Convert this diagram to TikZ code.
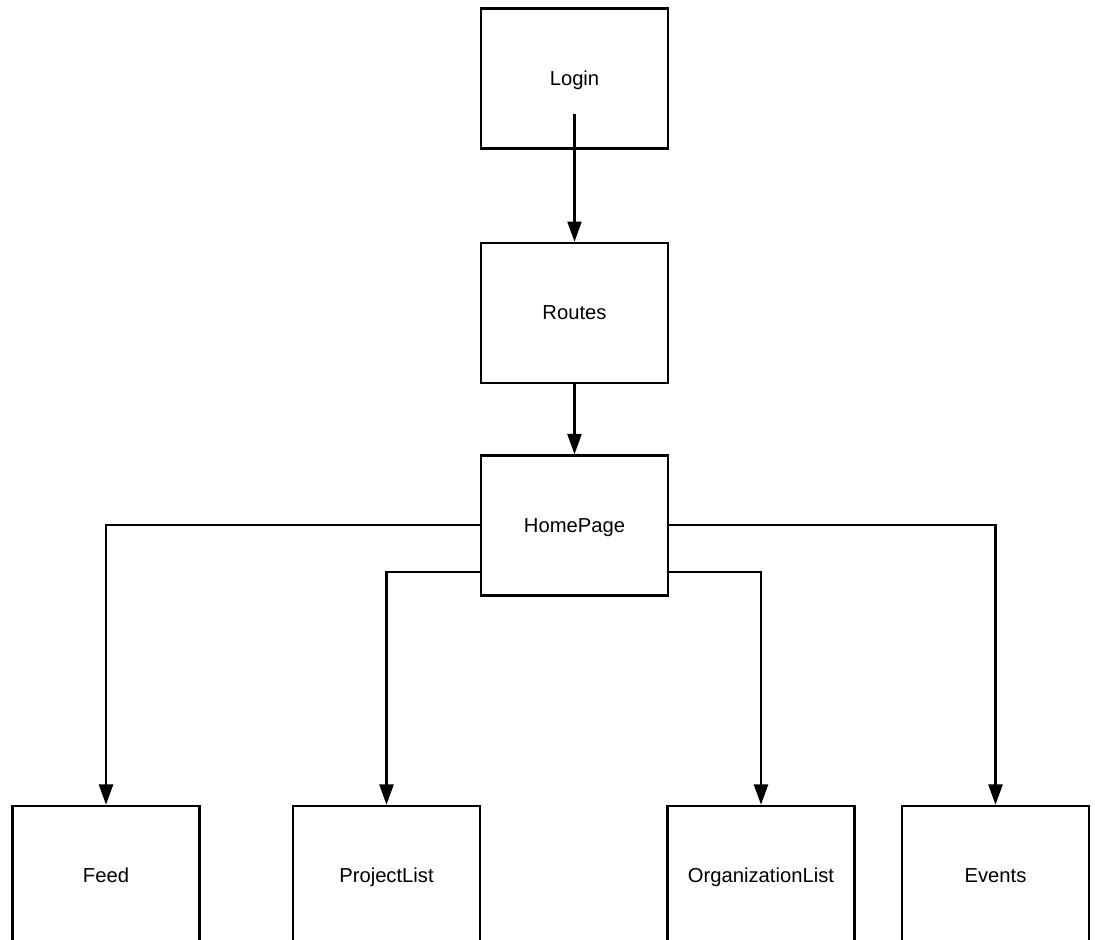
\documentclass[tikz,border=0pt]{standalone}
\usepackage{fontspec}
\setmainfont{Liberation Sans}
\usetikzlibrary{arrows.meta,positioning}

\begin{document}
\begin{tikzpicture}[every node/.style={font=\fontsize{11.5}{14}\selectfont}]

\tikzset{
  page/.style={rectangle, draw=black, line width=1.4pt, fill=white, minimum width=3.74cm, minimum height=2.8cm, inner sep=0pt, text height=10pt, text depth=2pt},
  link/.style={-{Triangle[length=11.5pt, width=8pt]}, line width=1.2pt}
}

\useasboundingbox (0,0) rectangle (21.9,-18.8);

% Top chain
\node[page] (login) at (11.49,-1.57) {Login};
\node[page, below=1.84cm of login] (routes) {Routes};
\node[page, below=1.4cm of routes] (home) {HomePage};

% Child pages
\node[page] (feed) at ([xshift=-9.37cm, yshift=-7.01cm]home.center) {Feed};
\node[page] (plist) at ([xshift=-3.76cm, yshift=-7.01cm]home.center) {ProjectList};
\node[page] (olist) at ([xshift=3.73cm, yshift=-7.01cm]home.center) {OrganizationList};
\node[page] (events) at ([xshift=8.42cm, yshift=-7.01cm]home.center) {Events};

% Arrows
\coordinate (loginout) at ([yshift=-0.72cm]login.center);
\draw[link] (loginout) -- (routes.north);
\draw[link] (routes.south) -- (home.north);
\draw[link] (home.west) -| (feed.north);
\draw[link] ([yshift=-0.93cm]home.west) -| (plist.north);
\draw[link] ([yshift=-0.93cm]home.east) -| (olist.north);
\draw[link] (home.east) -| (events.north);

\end{tikzpicture}
\end{document}
